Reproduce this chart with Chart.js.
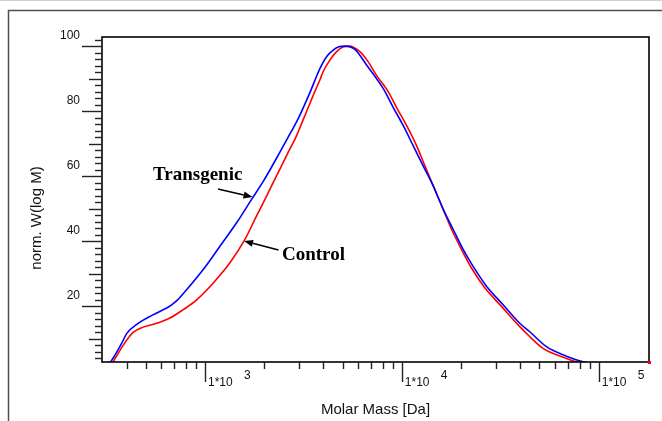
<!DOCTYPE html>
<html>
<head>
<meta charset="utf-8">
<script src="https://cdn.jsdelivr.net/npm/chart.js@4/dist/chart.umd.min.js"></script>
<style>
html,body{margin:0;padding:0;background:#fff;}
canvas{display:block;}
</style>
</head>
<body>
<canvas id="c" width="662" height="421"></canvas>
<script>
// ---- Data (molar mass in Da, normalized W(log M)) ----
const transgenicMass = [300, 330, 349, 378, 401, 454, 541, 639, 672, 724, 807, 980, 1192, 1448, 1726, 1977, 2403, 2701, 2976, 3412, 3835, 4163, 4480, 4788, 5137, 5773, 6620, 8036, 9034, 10153, 11414, 12829, 14418, 16204, 18212, 20477, 23013, 26915, 32680, 39719, 44637, 54263, 68548, 84903, 92150];
const transgenicW    = [0.5, 2.8, 5.0, 8.7, 11.7, 14.6, 17.3, 19.5, 20.3, 21.9, 25.1, 31.3, 38.5, 45.7, 52.9, 58.4, 67.4, 73.0, 77.7, 85.7, 93.1, 96.9, 98.8, 99.8, 100.0, 99.0, 94.2, 87.0, 81.2, 75.6, 69.4, 63.2, 57.1, 49.9, 43.7, 37.5, 32.3, 26.2, 20.5, 14.8, 12.2, 7.6, 4.7, 2.8, 2.3];

const controlMass = [320, 340, 388, 432, 569, 664, 776, 908, 1102, 1339, 1596, 1815, 2017, 2240, 2403, 2623, 2921, 3155, 3314, 3595, 3835, 3986, 4311, 4661, 5018, 5383, 6121, 6722, 7439, 8520, 9465, 10566, 11874, 13091, 14418, 16204, 17876, 20092, 22585, 26385, 32072, 38943, 43761, 52160, 68548, 78240, 84903];
const controlW    = [0.5, 2.8, 8.4, 12.0, 14.8, 16.4, 19.0, 22.0, 27.2, 33.4, 40.6, 47.4, 52.9, 58.5, 62.2, 66.9, 72.5, 77.4, 80.5, 85.7, 89.6, 92.2, 95.7, 98.3, 99.7, 100.0, 98.3, 95.3, 91.0, 86.0, 80.8, 75.6, 69.4, 63.2, 57.1, 49.9, 43.7, 37.5, 31.8, 25.7, 20.0, 14.3, 11.2, 7.1, 4.0, 2.8, 2.3];

const seriesNames = ['Transgenic', 'Control'];
const yTickValues = [20, 40, 60, 80, 100];
const yTickLabels = ['20', '40', '60', '80', '100'];
const xDecadeValues = [1000, 10000, 100000];
const xDecadeLabels = ['1*10', '1*10', '1*10'];
const xDecadeExponents = ['3', '4', '5'];
const xAxisTitle = 'Molar Mass [Da]';
const yAxisTitle = 'norm. W(log M)';

const toPoints = (xs, ys) => xs.map((x, i) => ({x: x, y: ys[i]}));

const SANS = '"Liberation Sans", Arial, Helvetica, sans-serif';
const SERIF = '"Liberation Serif", "Times New Roman", Times, serif';

function arrow(ctx, x1, y1, x2, y2) {
  const ang = Math.atan2(y2 - y1, x2 - x1);
  const hl = 9, hw = 3.5;
  const bx = x2 - hl * Math.cos(ang), by = y2 - hl * Math.sin(ang);
  ctx.beginPath();
  ctx.moveTo(x1, y1);
  ctx.lineTo(bx, by);
  ctx.stroke();
  ctx.beginPath();
  ctx.moveTo(x2, y2);
  ctx.lineTo(bx + hw * Math.sin(ang), by - hw * Math.cos(ang));
  ctx.lineTo(bx - hw * Math.sin(ang), by + hw * Math.cos(ang));
  ctx.closePath();
  ctx.fill();
}

const decorPlugin = {
  id: 'decor',
  afterDraw(chart) {
    const ctx = chart.ctx, a = chart.chartArea;
    const xs = chart.scales.x, ys = chart.scales.y;
    ctx.save();

    // outer page frame
    ctx.strokeStyle = '#d0d0d0'; ctx.lineWidth = 1;
    ctx.beginPath(); ctx.moveTo(0, 0.5); ctx.lineTo(662, 0.5); ctx.stroke();
    ctx.strokeStyle = '#505050'; ctx.lineWidth = 1.5;
    ctx.beginPath(); ctx.moveTo(8.5, 421); ctx.lineTo(8.5, 10.5); ctx.lineTo(662, 10.5); ctx.stroke();

    // plot frame
    ctx.strokeStyle = '#000'; ctx.lineWidth = 1.6;
    ctx.strokeRect(a.left, a.top, a.right - a.left, a.bottom - a.top);

    // y ticks (every 2 units)
    ctx.strokeStyle = '#222'; ctx.lineWidth = 1.4;
    for (let v = Math.ceil(ys.min / 2) * 2; v <= ys.max; v += 2) {
      const y = Math.round(ys.getPixelForValue(v)) + 0.5;
      const len = v % 20 === 0 ? 20 : (v % 10 === 0 ? 13 : 7);
      ctx.beginPath(); ctx.moveTo(a.left - len, y); ctx.lineTo(a.left, y); ctx.stroke();
    }
    ctx.fillStyle = '#111';
    ctx.font = '12px ' + SANS;
    ctx.textAlign = 'right'; ctx.textBaseline = 'middle';
    yTickValues.forEach((v, i) => {
      const y = ys.getPixelForValue(v);
      ctx.fillText(yTickLabels[i], a.left - 22, y - 10.5);
    });

    // x ticks (log)
    for (let d = 100; d <= 1e6; d *= 10) {
      for (let m = 1; m <= 9; m++) {
        const v = m * d;
        if (v <= xs.min || v > xs.max) continue;
        const x = Math.round(xs.getPixelForValue(v)) + 0.5;
        const len = m === 1 ? 20 : 7;
        ctx.beginPath(); ctx.moveTo(x, a.bottom); ctx.lineTo(x, a.bottom + len); ctx.stroke();
      }
    }
    ctx.textAlign = 'left';
    xDecadeValues.forEach((v, i) => {
      const x = xs.getPixelForValue(v);
      ctx.font = '12px ' + SANS;
      ctx.fillText(xDecadeLabels[i], x + 3, a.bottom + 21);
      ctx.fillText(xDecadeExponents[i], x + 39, a.bottom + 14);
    });

    // axis titles
    ctx.font = '15px ' + SANS;
    ctx.textAlign = 'center'; ctx.textBaseline = 'middle';
    ctx.fillText(xAxisTitle, (a.left + a.right) / 2, 410);
    ctx.save();
    ctx.translate(37, 218);
    ctx.rotate(-Math.PI / 2);
    ctx.fillText(yAxisTitle, 0, 0);
    ctx.restore();

    // red end marker at lower right corner
    ctx.fillStyle = '#ff0000';
    ctx.fillRect(a.right - 1, a.bottom - 1, 3, 3);

    // annotations
    ctx.fillStyle = '#000'; ctx.strokeStyle = '#000'; ctx.lineWidth = 1.6;
    ctx.font = 'bold 19px ' + SERIF;
    ctx.textAlign = 'left'; ctx.textBaseline = 'alphabetic';
    ctx.fillText(seriesNames[0], 153, 179.5);
    ctx.fillText(seriesNames[1], 282, 260);
    arrow(ctx, 218, 189, 252.5, 197);
    arrow(ctx, 278.5, 250, 244, 241);

    ctx.restore();
  }
};

new Chart(document.getElementById('c'), {
  type: 'line',
  data: {
    datasets: [
      {
        label: seriesNames[0],
        data: toPoints(transgenicMass, transgenicW),
        borderColor: '#0000ff',
        borderWidth: 1.6,
        pointRadius: 0,
        fill: false,
        cubicInterpolationMode: 'monotone'
      },
      {
        label: seriesNames[1],
        data: toPoints(controlMass, controlW),
        borderColor: '#ff0000',
        borderWidth: 1.6,
        pointRadius: 0,
        fill: false,
        cubicInterpolationMode: 'monotone'
      }
    ]
  },
  options: {
    responsive: false,
    animation: false,
    devicePixelRatio: 1,
    layout: { padding: { left: 102, top: 37, right: 13, bottom: 59 } },
    plugins: { legend: { display: false }, tooltip: { enabled: false } },
    scales: {
      x: { type: 'logarithmic', min: 300, max: 180000, display: false },
      y: { type: 'linear', min: 2.9, max: 102.8, display: false }
    }
  },
  plugins: [decorPlugin]
});
</script>
</body>
</html>
